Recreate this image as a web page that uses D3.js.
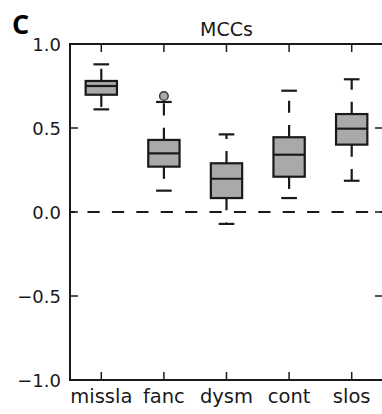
<!DOCTYPE html>
<html><head><meta charset="utf-8">
<script src="https://cdn.jsdelivr.net/npm/d3@7"></script>
<style>body{margin:0;background:#fff}svg{display:block}</style>
</head><body>
<script>
const categories = ["missla","fanc","dysm","cont","slos"];
const whiskerLow  = [0.611, 0.127, -0.071, 0.083, 0.186];
const q1          = [0.698, 0.270, 0.083, 0.210, 0.401];
const medians     = [0.750, 0.349, 0.198, 0.341, 0.496];
const q3          = [0.780, 0.429, 0.290, 0.445, 0.583];
const whiskerHigh = [0.879, 0.655, 0.462, 0.722, 0.790];
const fliers      = [[], [0.69], [], [], []];
const yTicks = [-1.0, -0.5, 0.0, 0.5, 1.0];

const W = 382, H = 414;
const L = 70, R = 383, T = 44, B = 380;
const svg = d3.select("body").append("svg").attr("width", W).attr("height", H);

const x = d3.scaleLinear().domain([0.5, 5.5]).range([L, R]);
const y = d3.scaleLinear().domain([-1, 1]).range([B, T]);

svg.append("defs").append("clipPath").attr("id","clip")
  .append("rect").attr("x", L).attr("y", T).attr("width", R-L).attr("height", B-T);

const font = "DejaVu Sans, sans-serif";
const ink = "#1a1a1a";

// zero dashed line
svg.append("line").attr("clip-path","url(#clip)")
  .attr("x1", x(0)).attr("x2", x(6)).attr("y1", y(0)).attr("y2", y(0))
  .attr("stroke",ink).attr("stroke-width",2.2).attr("stroke-dasharray","12.2,12.2");

const g = svg.append("g");
const data = categories.map((c,i)=>({c, i, lo:whiskerLow[i], q1:q1[i], med:medians[i], q3:q3[i], hi:whiskerHigh[i], out:fliers[i]}));
const half = (x(1.25)-x(1));
const capHalf = (x(1.125)-x(1));

data.forEach(d=>{
  const cx = x(d.i+1);
  g.append("line").attr("x1",cx).attr("x2",cx).attr("y1",y(d.q3)).attr("y2",y(d.hi))
    .attr("stroke",ink).attr("stroke-width",2.2).attr("stroke-dasharray","12.2,12.2");
  g.append("line").attr("x1",cx).attr("x2",cx).attr("y1",y(d.q1)).attr("y2",y(d.lo))
    .attr("stroke",ink).attr("stroke-width",2.2).attr("stroke-dasharray","12.2,12.2");
  [d.hi, d.lo].forEach(v=>{
    g.append("line").attr("x1",cx-capHalf).attr("x2",cx+capHalf).attr("y1",y(v)).attr("y2",y(v))
      .attr("stroke",ink).attr("stroke-width",2.2);
  });
  g.append("rect").attr("x",cx-half).attr("width",2*half)
    .attr("y",y(d.q3)).attr("height",y(d.q1)-y(d.q3))
    .attr("fill","#a9a9a9").attr("stroke",ink).attr("stroke-width",2.2);
  g.append("line").attr("x1",cx-half).attr("x2",cx+half).attr("y1",y(d.med)).attr("y2",y(d.med))
    .attr("stroke",ink).attr("stroke-width",2.2);
  d.out.forEach(v=>{
    g.append("circle").attr("cx",cx).attr("cy",y(v)).attr("r",4.3)
      .attr("fill","#a9a9a9").attr("stroke","#333").attr("stroke-width",1.4);
  });
});

svg.append("rect").attr("x",L).attr("y",T).attr("width",R-L).attr("height",B-T)
  .attr("fill","none").attr("stroke",ink).attr("stroke-width",2);

const tl = 8;
yTicks.forEach(v=>{
  svg.append("line").attr("x1",L).attr("x2",L+tl).attr("y1",y(v)).attr("y2",y(v)).attr("stroke",ink).attr("stroke-width",1.5);
  svg.append("line").attr("x1",R).attr("x2",R-tl).attr("y1",y(v)).attr("y2",y(v)).attr("stroke",ink).attr("stroke-width",1.5);
  svg.append("text").attr("x",L-9).attr("y",y(v)+7).attr("text-anchor","end")
    .attr("font-family",font).attr("font-size",18).attr("fill",ink)
    .text(d3.format(".1f")(v).replace("-","\u2212"));
});
categories.forEach((c,i)=>{
  const cx = x(i+1);
  svg.append("line").attr("x1",cx).attr("x2",cx).attr("y1",B).attr("y2",B-tl).attr("stroke",ink).attr("stroke-width",1.5);
  svg.append("line").attr("x1",cx).attr("x2",cx).attr("y1",T).attr("y2",T+tl).attr("stroke",ink).attr("stroke-width",1.5);
  svg.append("text").attr("x",cx).attr("y",403).attr("text-anchor","middle")
    .attr("font-family",font).attr("font-size",19.5).attr("fill",ink).text(c);
});

svg.append("text").attr("x",(L+R)/2).attr("y",36).attr("text-anchor","middle")
  .attr("font-family",font).attr("font-size",19).attr("fill",ink).text("MCCs");
svg.append("text").attr("x",12).attr("y",34)
  .attr("font-family","Open Sans, sans-serif").attr("font-weight","bold").attr("font-size",27).attr("fill","#000").text("C");
</script>
</body></html>
